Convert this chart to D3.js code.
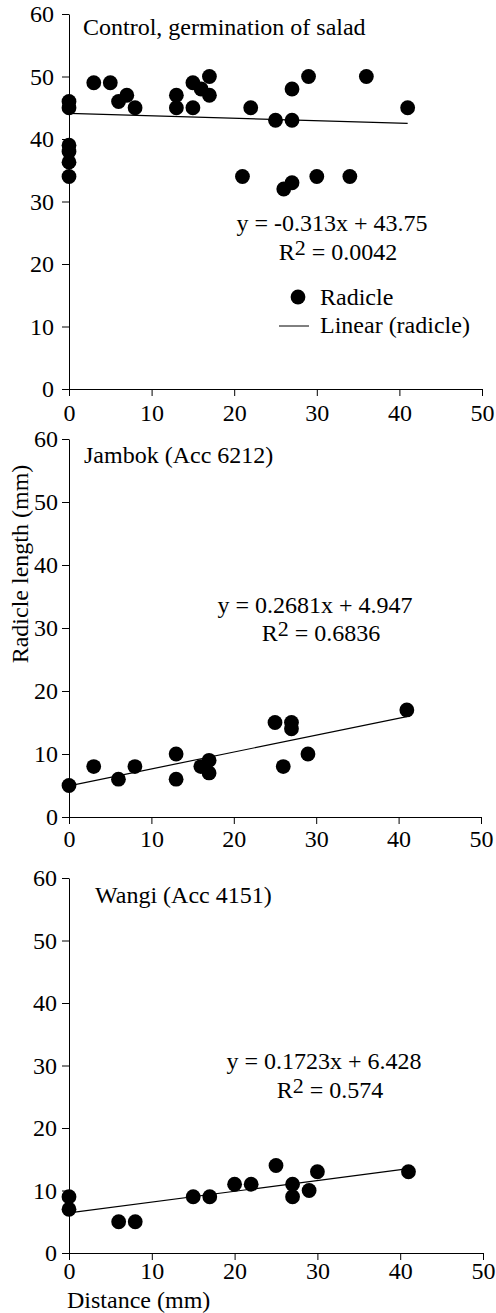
<!DOCTYPE html>
<html>
<head>
<meta charset="utf-8">
<script src="https://cdn.jsdelivr.net/npm/d3@7"></script>
<style>
  body { margin: 0; background: #fff; }
  text { font-family: "Liberation Serif", "Times New Roman", serif; fill: #000; }
</style>
</head>
<body>
<div id="chart"></div>
<script>
const xTicks = [0, 10, 20, 30, 40, 50]
const yTicks = [0, 10, 20, 30, 40, 50, 60]

const controlX = [0, 0, 3, 5, 6, 7, 8, 13, 13, 15, 15, 16, 17, 17, 22, 25, 27, 27, 29, 36, 41, 0, 0, 0, 0, 21, 26, 27, 30, 34]
const controlY = [46, 45, 49, 49, 46, 47, 45, 47, 45, 49, 45, 48, 50, 47, 45, 43, 43, 48, 50, 50, 45, 39, 38, 36.3, 34, 34, 32, 33, 34, 34]

const jambokX = [0, 3, 6, 8, 13, 13, 16, 17, 17, 25, 26, 27, 27, 29, 41]
const jambokY = [5, 8, 6, 8, 10, 6, 8, 9, 7, 15, 8, 15, 14, 10, 17]

const wangiX = [0, 0, 6, 8, 15, 17, 20, 22, 25, 27, 27, 29, 30, 41]
const wangiY = [9, 7, 5, 5, 9, 9, 11, 11, 14, 11, 9, 10, 13, 13]

const titles = ['Control, germination of salad', 'Jambok (Acc 6212)', 'Wangi (Acc 4151)']
const equations = ['y = -0.313x + 43.75', 'y = 0.2681x + 4.947', 'y = 0.1723x + 6.428']
const rSquared = ['0.0042', '0.6836', '0.574']

// trend lines as drawn, from x = 0 to x = 41
const trendX = [0, 41]
const trendStartY = [44.1, 4.947, 6.428]
const trendEndY = [42.5, 15.94, 13.49]

const legendLabels = ['Radicle', 'Linear (radicle)']

const series = [
  { x: controlX, y: controlY },
  { x: jambokX, y: jambokY },
  { x: wangiX, y: wangiY }
]

// pixel layout of each panel
const layout = [
  { x0: 69, x1: 482, yBottom: 389, yTop: 14, yPad: 8, xPad: 8, titleX: 83, titleY: 35, eqX: 332, eqY: 231, r2Y: 260 },
  { x0: 69, x1: 481, yBottom: 817, yTop: 439, yPad: 4, xPad: 6, titleX: 84, titleY: 463, eqX: 315, eqY: 613, r2Y: 641 },
  { x0: 69, x1: 483, yBottom: 1253, yTop: 878, yPad: 5, xPad: 2, titleX: 95, titleY: 903, eqX: 324, eqY: 1069, r2Y: 1098 }
]

const fontSize = 24
const radius = 7.4

const svg = d3.select('#chart')
  .append('svg')
  .attr('width', 496)
  .attr('height', 1313)

series.forEach((s, i) => {
  const L = layout[i]
  const x = d3.scaleLinear().domain([0, 50]).range([L.x0, L.x1])
  const y = d3.scaleLinear().domain([0, 60]).range([L.yBottom, L.yTop])
  const g = svg.append('g')

  const yAxis = g.append('g')
    .attr('transform', `translate(${L.x0},0)`)
    .call(d3.axisLeft(y).tickValues(yTicks).tickSize(7).tickSizeOuter(0).tickPadding(L.yPad))
  const xAxis = g.append('g')
    .attr('transform', `translate(0,${L.yBottom})`)
    .call(d3.axisBottom(x).tickValues(xTicks).tickSize(7).tickSizeOuter(0).tickPadding(L.xPad))

  ;[yAxis, xAxis].forEach(a => {
    a.attr('font-family', null).attr('font-size', null)
    a.selectAll('path, line').attr('stroke', '#000').attr('stroke-width', 1)
    a.selectAll('text').style('font-size', `${fontSize}px`).attr('fill', '#000')
  })

  g.append('line')
    .attr('x1', x(trendX[0]))
    .attr('y1', y(trendStartY[i]))
    .attr('x2', x(trendX[1]))
    .attr('y2', y(trendEndY[i]))
    .attr('stroke', '#000')
    .attr('stroke-width', 1.2)

  g.selectAll('.dot')
    .data(s.x.map((d, j) => [d, s.y[j]]))
    .enter()
    .append('circle')
    .attr('cx', d => x(d[0]))
    .attr('cy', d => y(d[1]))
    .attr('r', radius)
    .attr('fill', '#000')

  g.append('text')
    .attr('x', L.titleX)
    .attr('y', L.titleY)
    .style('font-size', `${fontSize}px`)
    .text(titles[i])

  g.append('text')
    .attr('x', L.eqX)
    .attr('y', L.eqY)
    .attr('text-anchor', 'middle')
    .style('font-size', `${fontSize}px`)
    .text(equations[i])

  const r2 = g.append('text')
    .attr('x', L.eqX + 6)
    .attr('y', L.r2Y)
    .attr('text-anchor', 'middle')
    .style('font-size', `${fontSize}px`)
  r2.append('tspan').text('R')
  r2.append('tspan').attr('dy', -5).style('font-size', '22px').text('2')
  r2.append('tspan').attr('dy', 5).text(` = ${rSquared[i]}`)

  if (i === 0) {
    g.append('circle')
      .attr('cx', 298)
      .attr('cy', 297)
      .attr('r', radius)
      .attr('fill', '#000')
    g.append('text')
      .attr('x', 320)
      .attr('y', 305)
      .style('font-size', `${fontSize}px`)
      .text(legendLabels[0])
    g.append('line')
      .attr('x1', 279)
      .attr('x2', 309)
      .attr('y1', 326)
      .attr('y2', 326)
      .attr('stroke', '#000')
    g.append('text')
      .attr('x', 320)
      .attr('y', 333)
      .style('font-size', `${fontSize}px`)
      .text(legendLabels[1])
  }
})

svg.append('text')
  .attr('transform', 'translate(28,564) rotate(-90)')
  .attr('text-anchor', 'middle')
  .style('font-size', `${fontSize}px`)
  .text('Radicle length (mm)')

svg.append('text')
  .attr('x', 67)
  .attr('y', 1308)
  .style('font-size', `${fontSize}px`)
  .text('Distance (mm)')
</script>
</body>
</html>
